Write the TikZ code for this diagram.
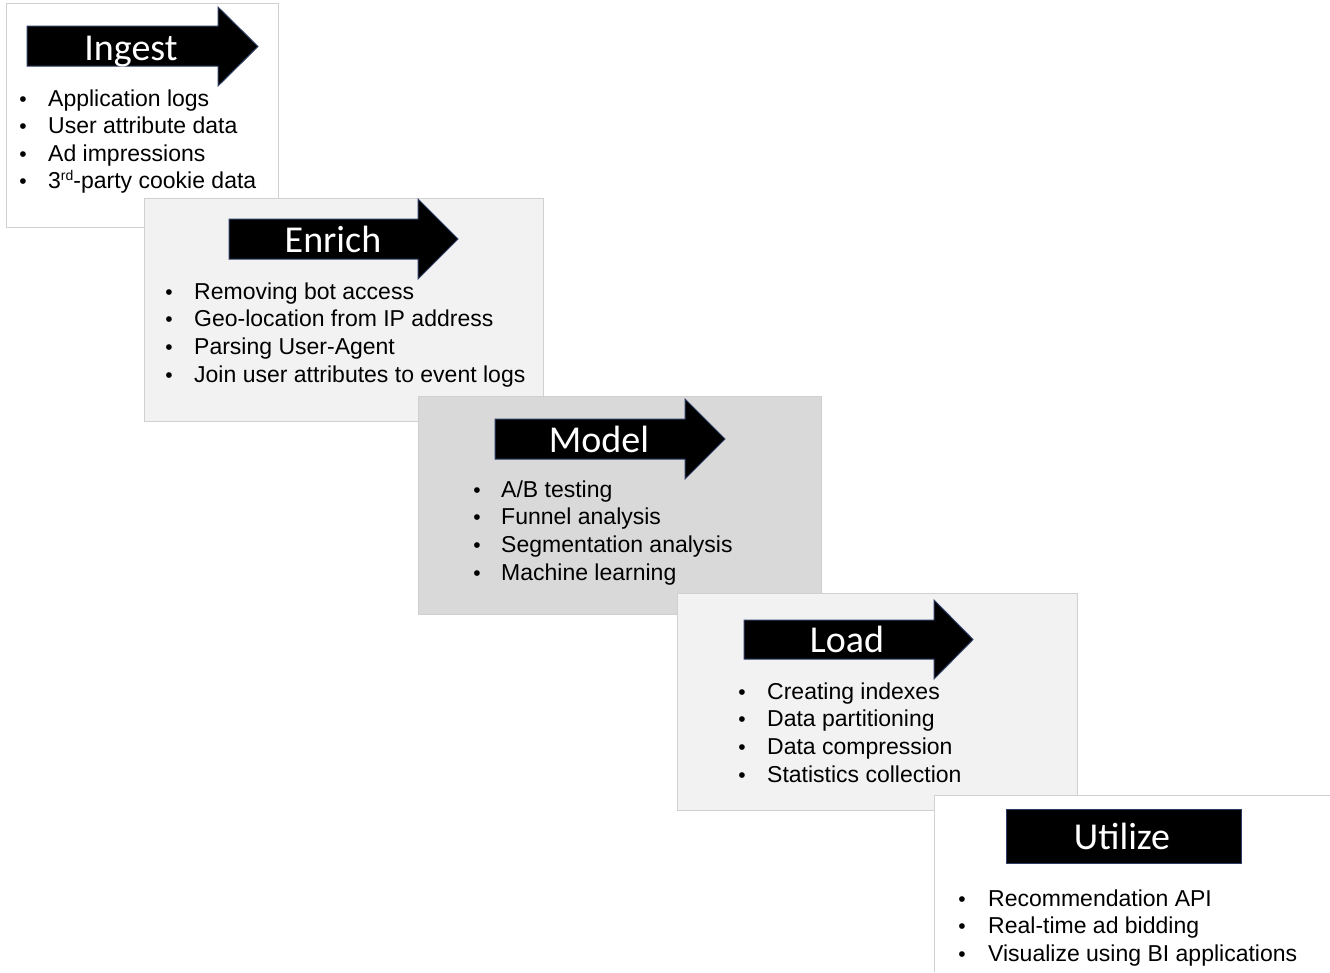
\documentclass[tikz,border=0pt]{standalone}
\usepackage{fontspec}
\setmainfont{Liberation Sans}
\newfontfamily\titlefont{Carlito}
\definecolor{edgegray}{HTML}{D0D0D0}
\definecolor{lightfill}{HTML}{F2F2F2}
\definecolor{midfill}{HTML}{D9D9D9}
\definecolor{navyedge}{HTML}{2E3D63}
\begin{document}
\begin{tikzpicture}[x=1pt,y=-1pt,
  panel/.style={draw=edgegray, line width=1pt},
  banner/.style={fill=black, draw=navyedge, line width=1pt, line join=miter},
  title/.style={text=white, font=\titlefont\fontsize{38}{42}\selectfont, anchor=base, inner sep=0},
  item/.style={anchor=base west, font=\fontsize{23}{27}\selectfont, inner sep=0},
  bul/.style={anchor=base, font=\fontsize{21}{27}\selectfont, inner sep=0}]
\useasboundingbox (0,0) rectangle (1330,972);
\fill[white] (0,0) rectangle (1330,972);

% ---- Ingest ----
\draw[panel, fill=white] (6,3) rectangle (278,227);
\draw[banner] (27,26) -- (218,26) -- (218,7) -- (258,46.5) -- (218,86) -- (218,66) -- (27,66) -- cycle;
\node[title] (ingest) at (131,60) {Ingest};
\foreach \t [count=\i] in {Application logs, User attribute data, Ad impressions, {3\raisebox{8pt}{\fontsize{14}{14}\selectfont rd}-party cookie data}}{
  \node[bul] (ingb\i) at (23,{106+27.6*(\i-1)}) {•};
  \node[item] (ingt\i) at (48,{106+27.6*(\i-1)}) {\t};
}

% ---- Enrich ----
\draw[panel, fill=lightfill] (144,198) rectangle (543,421);
\draw[banner] (229,219) -- (418,219) -- (418,199) -- (458,239) -- (418,279) -- (418,259) -- (229,259) -- cycle;
\node[title] (enrich) at (333,252) {Enrich};
\foreach \t [count=\i] in {Removing bot access, Geo-location from IP address, Parsing User-Agent, Join user attributes to event logs}{
  \node[bul] (enrb\i) at (169,{299+27.8*(\i-1)}) {•};
  \node[item] (enrt\i) at (194,{299+27.8*(\i-1)}) {\t};
}

% ---- Model ----
\draw[panel, fill=midfill] (418,396) rectangle (821,614);
\draw[banner] (495,419) -- (685,419) -- (685,399) -- (725,439) -- (685,479) -- (685,459) -- (495,459) -- cycle;
\node[title] (model) at (599,452) {Model};
\foreach \t [count=\i] in {A/B testing, Funnel analysis, Segmentation analysis, Machine learning}{
  \node[bul] (modb\i) at (477,{497+27.8*(\i-1)}) {•};
  \node[item] (modt\i) at (501,{497+27.8*(\i-1)}) {\t};
}

% ---- Load ----
\draw[panel, fill=lightfill] (677,593) rectangle (1077,810);
\draw[banner] (744,620) -- (934,620) -- (934,600) -- (973,639.5) -- (934,679) -- (934,659) -- (744,659) -- cycle;
\node[title] (load) at (847,652) {Load};
\foreach \t [count=\i] in {Creating indexes, Data partitioning, Data compression, Statistics collection}{
  \node[bul] (lodb\i) at (742,{699+27.8*(\i-1)}) {•};
  \node[item] (lodt\i) at (767,{699+27.8*(\i-1)}) {\t};
}

% ---- Utilize ----
\fill[white] (934,795) rectangle (1330,972);
\draw[panel] (934,972) -- (934,795) -- (1330,795);
\draw[banner] (1006,809) rectangle (1241,863);
\node[title] (utilize) at (1122,849) {Utilize};
\foreach \t [count=\i] in {Recommendation API, Real-time ad bidding, Visualize using BI applications}{
  \node[bul] (utlb\i) at (962,{906+27.6*(\i-1)}) {•};
  \node[item] (utlt\i) at (988,{906+27.6*(\i-1)}) {\t};
}
\end{tikzpicture}
\end{document}
